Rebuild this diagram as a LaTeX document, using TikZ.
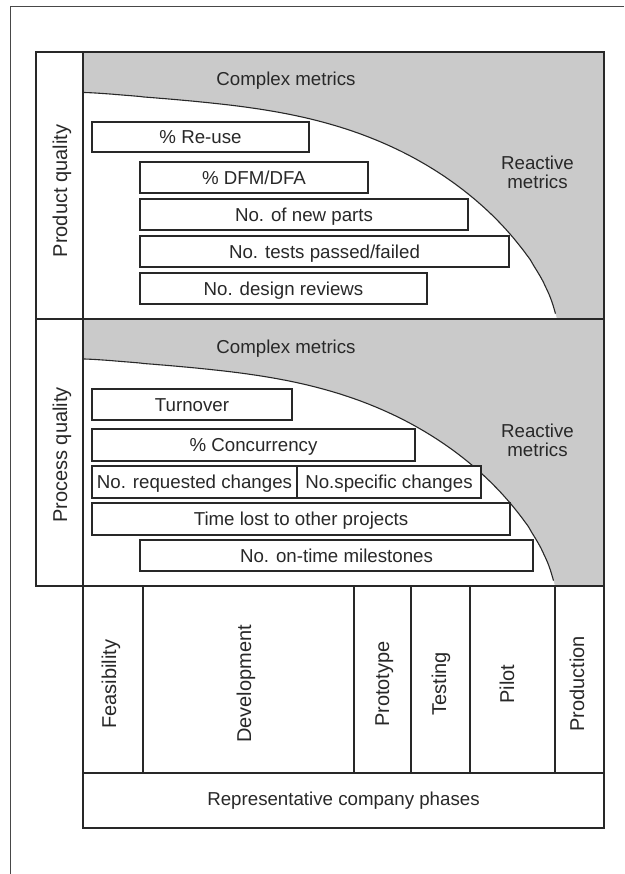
\documentclass[tikz,border=0pt]{standalone}
\usepackage{fontspec}
\setmainfont{Liberation Sans}
\begin{document}
\begin{tikzpicture}[x=1pt,y=-1pt,line join=miter]
\definecolor{shadegray}{RGB}{202,202,202}
\definecolor{ink}{RGB}{40,40,40}
\tikzset{
  frame/.style={draw=ink, line width=1.2pt},
  mbox/.style={draw=ink, line width=1.5pt, fill=white, inner sep=0pt,
    text height=13.4pt, text depth=0pt, text=ink,
    font=\fontsize{18.7}{20}\selectfont},
  lbl/.style={inner sep=0pt, anchor=base, text=ink, font=\fontsize{18.7}{20}\selectfont},
  vlbl/.style={inner sep=0pt, anchor=base, rotate=90, text=ink, font=\fontsize{20}{22}\selectfont},
  curveline/.style={draw=ink, line width=1.1pt},
  curvedom/.style={domain=0.001:0.999, samples=150, variable=\s, smooth}
}
% normalised boundary shape v(u), u in [0,1]
\def\vf#1{(1.02*(1-(1-(#1)^2.6)^0.66)+0.6*(#1)^1.5*(1-(#1))^4)}
\useasboundingbox (0,0) rectangle (624,874);
\fill[white] (0,0) rectangle (624,874);

% outer page frame (cropped)
\draw[draw=ink!85, line width=1pt] (624,7) -- (10,7) -- (10,874);

% shaded regions
\fill[shadegray] (83,52) rectangle (604,586);
\begin{scope}
  \clip (83,52) rectangle (604,586);
  \fill[white] (83,319) -- plot[curvedom] ({83+474*\s},{92.5+226.5*\vf{\s}}) -- (557,319) -- cycle;
  \fill[white] (83,586) -- plot[curvedom] ({83+472*\s},{359+227*\vf{\s}}) -- (555,586) -- cycle;
  \draw[curveline] plot[curvedom] ({83+474*\s},{92.5+226.5*\vf{\s}});
  \draw[curveline] plot[curvedom] ({83+472*\s},{359+227*\vf{\s}});
\end{scope}

% frames
\draw[frame] (36,52) rectangle (604,586);
\draw[frame] (36,319) -- (604,319);
\draw[frame] (83,52) -- (83,586);
\draw[frame] (83,586) rectangle (604,828);
\draw[frame] (83,773) -- (604,773);
\foreach \xx in {143,354,411,470,555} \draw[frame] (\xx,586) -- (\xx,773);

% section labels
\node[vlbl] (pq) at (67,191) {Product quality};
\node[vlbl] (prq) at (67,455) {Process quality};
\node[lbl] (cm1) at (286,85.5) {Complex metrics};
\node[lbl] (cm2) at (286,353) {Complex metrics};
\node[lbl] (rm1a) at (537.5,169.5) {Reactive};
\node[lbl] (rm1b) at (537.5,188.5) {metrics};
\node[lbl] (rm2a) at (537.5,437) {Reactive};
\node[lbl] (rm2b) at (537.5,456.5) {metrics};

% product boxes
\node[mbox, minimum width=217pt, minimum height=30pt] (reuse) at (200.5,137) {\% Re-use};
\node[mbox, minimum width=228pt, minimum height=31pt] (dfm) at (254,177.5) {\% DFM/DFA};
\node[mbox, minimum width=328pt, minimum height=31pt] (parts) at (304,214.5) {No. of new parts};
\node[mbox, minimum width=369pt, minimum height=31pt] (tests) at (324.5,251.5) {No. tests passed/failed};
\node[mbox, minimum width=287pt, minimum height=31pt] (reviews) at (283.5,288.5) {No. design reviews};

% process boxes
\node[mbox, minimum width=200pt, minimum height=31pt] (turn) at (192,404.5) {Turnover};
\node[mbox, minimum width=323pt, minimum height=32pt] (conc) at (253.5,445) {\% Concurrency};
\node[mbox, minimum width=205pt, minimum height=32pt] (req) at (194.5,482) {No. requested changes};
\node[mbox, minimum width=184pt, minimum height=32pt] (spec) at (389,482) {No.specific changes};
\node[mbox, minimum width=418pt, minimum height=32pt] (lost) at (301,519) {Time lost to other projects};
\node[mbox, minimum width=393pt, minimum height=31pt] (miles) at (336.5,555.5) {No. on-time milestones};

% phases
\node[vlbl] (feas) at (116,684) {Feasibility};
\node[vlbl] (dev) at (251,684) {Development};
\node[vlbl] (proto) at (389,684) {Prototype};
\node[vlbl] (test) at (446,684) {Testing};
\node[vlbl] (pilot) at (514,684) {Pilot};
\node[vlbl] (prod) at (584,684) {Production};
\node[lbl] (rep) at (343.5,805) {Representative company phases};
\end{tikzpicture}
\end{document}
